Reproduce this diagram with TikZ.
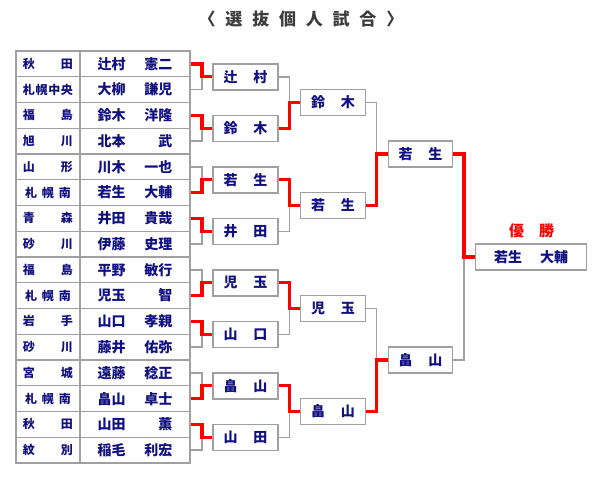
\documentclass[tikz,border=0pt]{standalone}
\usepackage{fontspec}
\setmainfont{Noto Sans CJK JP}
\usetikzlibrary{backgrounds}
\definecolor{navy}{RGB}{16,16,128}
\definecolor{lgray}{RGB}{160,160,160}
\definecolor{ttl}{RGB}{60,60,60}
\newcommand\ttsp{\hspace{9.8pt}}
\tikzset{
 cell/.style={draw=lgray, line width=1.3pt, minimum height=25.75pt, inner sep=0pt, outer sep=0pt, text=navy},
 prefcell/.style={cell, minimum width=64pt, font=\bfseries\fontsize{12}{12}\selectfont},
 namecell/.style={cell, minimum width=110pt, font=\bfseries\fontsize{14}{14}\selectfont},
 rbox/.style={draw=lgray, line width=1.5pt, fill=white, minimum width=65pt, minimum height=26pt, inner sep=0pt, outer sep=0pt, text=navy, font=\bfseries\fontsize{14}{14}\selectfont},
 lose/.style={draw=lgray, line width=1.5pt},
 win/.style={draw=red, line width=3.3pt},
}
\begin{document}
\begin{tikzpicture}[x=1pt,y=-1pt]
\useasboundingbox (0,0) rectangle (600,480);
\node[text=ttl, font=\bfseries\fontsize{17}{17}\selectfont] (title) at (301,19) {〈\ttsp 選\ttsp 抜\ttsp 個\ttsp 人\ttsp 試\ttsp 合\ttsp 〉};
% table
\foreach \i/\p/\n in {
 1/{秋\hfill 田}/{辻村\hfill 憲二},
 2/{札\hfill 幌\hfill 中\hfill 央}/{大柳\hfill 謙児},
 3/{福\hfill 島}/{鈴木\hfill 洋隆},
 4/{旭\hfill 川}/{北本\hfill 武},
 5/{山\hfill 形}/{川木\hfill 一也},
 6/{\makebox[46pt]{札\hfill 幌\hfill 南}}/{若生\hfill 大輔},
 7/{青\hfill 森}/{井田\hfill 貴哉},
 8/{砂\hfill 川}/{伊藤\hfill 史理},
 9/{福\hfill 島}/{平野\hfill 敏行},
 10/{\makebox[46pt]{札\hfill 幌\hfill 南}}/{児玉\hfill 智},
 11/{岩\hfill 手}/{山口\hfill 孝親},
 12/{砂\hfill 川}/{藤井\hfill 佑弥},
 13/{宮\hfill 城}/{遠藤\hfill 稔正},
 14/{\makebox[46pt]{札\hfill 幌\hfill 南}}/{畠山\hfill 卓士},
 15/{秋\hfill 田}/{山田\hfill 薫},
 16/{紋\hfill 別}/{稲毛\hfill 利宏}}{
 \node[prefcell] (p\i) at (48,{51+(\i-0.5)*25.75}) {\makebox[50pt]{\p}};
 \node[namecell] (n\i) at (135,{51+(\i-0.5)*25.75}) {\makebox[75pt]{\n}};
}
% round 1
\foreach \k/\t in {1/{辻\hfill 村},2/{鈴\hfill 木},3/{若\hfill 生},4/{井\hfill 田},5/{児\hfill 玉},6/{山\hfill 口},7/{畠\hfill 山},8/{山\hfill 田}}{
 \node[rbox] (a\k) at (245.5,{51+(2*\k-1)*25.75}) {\makebox[44pt]{\t}};
}
% round 2
\foreach \k/\t in {1/{鈴\hfill 木},2/{若\hfill 生},3/{児\hfill 玉},4/{畠\hfill 山}}{
 \node[rbox] (b\k) at (333,{51+(4*\k-2)*25.75}) {\makebox[44pt]{\t}};
}
% round 3
\node[rbox, minimum width=64pt] (c1) at (420.5,{51+4*25.75}) {\makebox[44pt]{若\hfill 生}};
\node[rbox, minimum width=64pt] (c2) at (420.5,{51+12*25.75}) {\makebox[44pt]{畠\hfill 山}};
% final
\node[rbox, minimum width=111pt] (f) at (531.2,{51+8*25.75}) {\makebox[74pt]{若生\hfill 大輔}};
\node[text=red, font=\bfseries\fontsize{15}{15}\selectfont] (yusho) at (531.5,231) {\makebox[45pt]{優\hfill 勝}};
\begin{scope}[on background layer]
 \foreach \k/\w/\l in {1/1/2,2/3/4,3/6/5,4/7/8,5/10/9,6/11/12,7/14/13,8/15/16}{
  \draw[lose] (n\l.east) -- ++(12,0) |- (a\k.west);
 }
 \foreach \k/\w/\l in {1/2/1,2/3/4,3/5/6,4/7/8}{
  \draw[lose] (a\l.east) -- ++(11.5,0) |- (b\k.west);
 }
 \draw[lose] (b1.east) -- ++(11,0) |- (c1.west);
 \draw[lose] (b3.east) -- ++(11,0) |- (c2.west);
 \draw[lose] (c2.east) -- ++(11.5,0) |- (f.west);
 \foreach \k/\w/\l in {1/1/2,2/3/4,3/6/5,4/7/8,5/10/9,6/11/12,7/14/13,8/15/16}{
  \draw[win] (n\w.east) -- ++(12,0) |- (a\k.west);
 }
 \foreach \k/\w/\l in {1/2/1,2/3/4,3/5/6,4/7/8}{
  \draw[win] (a\w.east) -- ++(11.5,0) |- (b\k.west);
 }
 \draw[win] (b2.east) -- ++(11,0) |- (c1.west);
 \draw[win] (b4.east) -- ++(11,0) |- (c2.west);
 \draw[win] (c1.east) -- ++(11.5,0) |- (f.west);
\end{scope}
\end{tikzpicture}
\end{document}
